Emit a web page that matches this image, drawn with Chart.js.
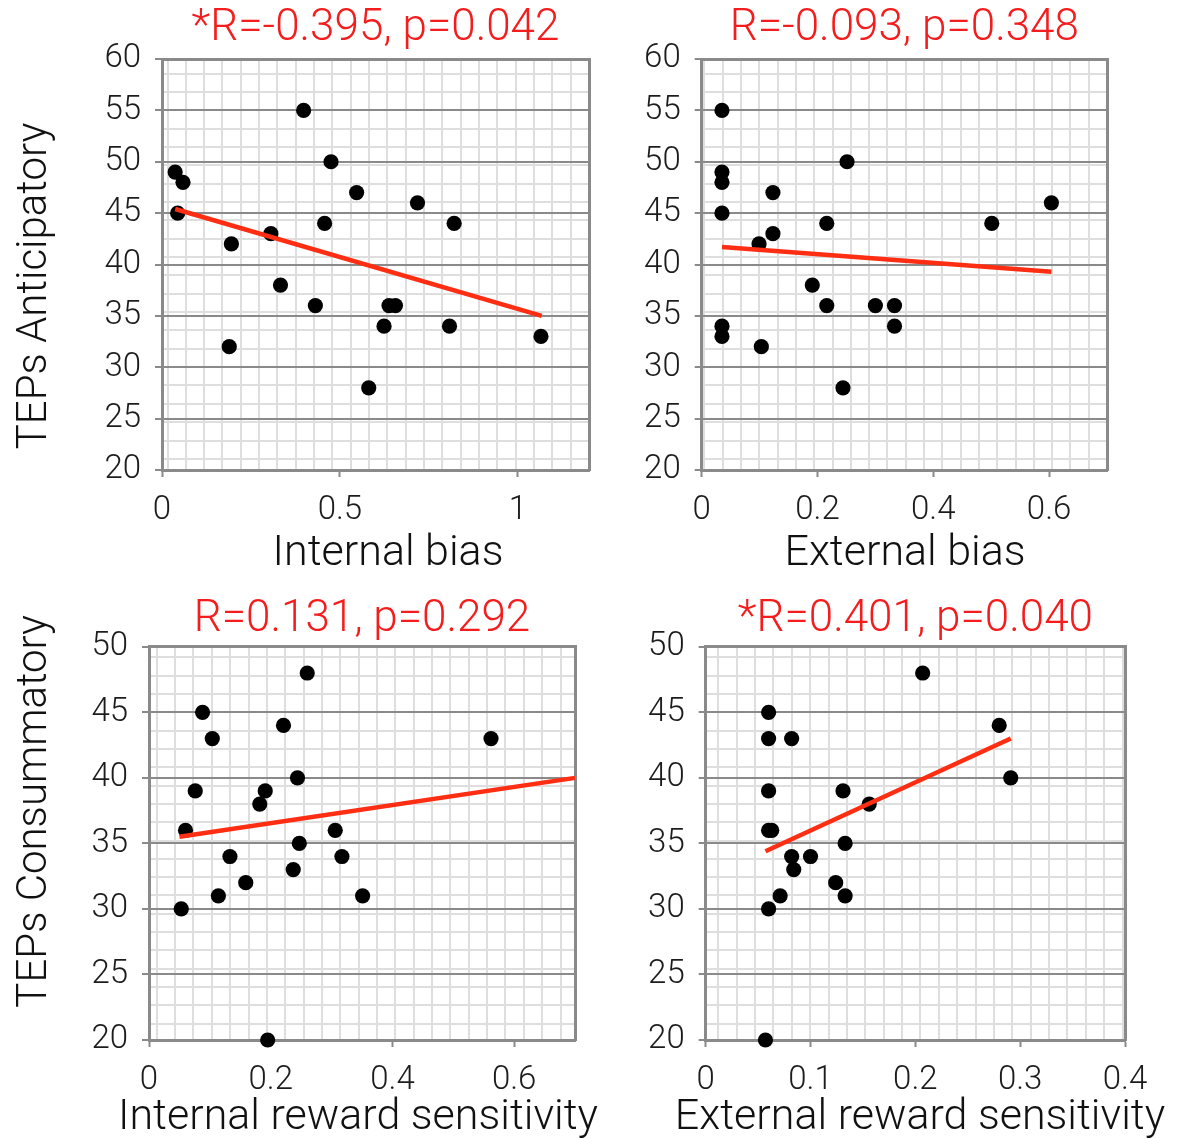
<!DOCTYPE html>
<html>
<head>
<meta charset="utf-8">
<script src="https://cdn.jsdelivr.net/npm/chart.js@4.4.1/dist/chart.umd.min.js"></script>
<style>
  body { margin: 0; background: #fff; width: 1178px; height: 1139px; position: relative; overflow: hidden; }
  canvas { position: absolute; }
</style>
</head>
<body>
<canvas id="c1" width="776" height="580" style="left:0;top:0"></canvas>
<canvas id="c2" width="610" height="580" style="left:600px;top:0"></canvas>
<canvas id="c3" width="716" height="559" style="left:0;top:580px"></canvas>
<canvas id="c4" width="640" height="559" style="left:600px;top:580px"></canvas>
<script>
const FONT = "'Helvetica Neue', Roboto, 'Liberation Sans', sans-serif";

// top left: internal bias vs TEPs anticipatory
const internalBias = [0.037, 0.059, 0.044, 0.398, 0.475, 0.547, 0.718, 0.821, 0.457, 0.306, 0.195, 0.333, 0.431, 0.638, 0.656, 0.624, 0.808, 0.189, 1.065, 0.581];
const anticipatoryInt = [49, 48, 45, 55, 50, 47, 46, 44, 44, 43, 42, 38, 36, 36, 36, 34, 34, 32, 33, 28];
const fitIntBiasX = [0.037, 1.067];
const fitIntBiasY = [45.4, 35.0];

// top right: external bias vs TEPs anticipatory
const externalBias = [0.035, 0.035, 0.035, 0.035, 0.035, 0.035, 0.123, 0.123, 0.099, 0.103, 0.251, 0.216, 0.191, 0.216, 0.244, 0.300, 0.333, 0.333, 0.501, 0.604];
const anticipatoryExt = [55, 49, 48, 45, 34, 33, 47, 43, 42, 32, 50, 44, 38, 36, 28, 36, 36, 34, 44, 46];
const fitExtBiasX = [0.035, 0.604];
const fitExtBiasY = [41.7, 39.3];

// bottom left: internal reward sensitivity vs TEPs consummatory
const internalReward = [0.260, 0.088, 0.221, 0.104, 0.562, 0.244, 0.076, 0.191, 0.182, 0.060, 0.306, 0.247, 0.133, 0.317, 0.237, 0.159, 0.114, 0.351, 0.053, 0.195];
const consummatoryInt = [48, 45, 44, 43, 43, 40, 39, 39, 38, 36, 36, 35, 34, 34, 33, 32, 31, 31, 30, 20];
const fitIntRewardX = [0.05, 0.70];
const fitIntRewardY = [35.5, 40.0];

// bottom right: external reward sensitivity vs TEPs consummatory
const externalReward = [0.207, 0.060, 0.060, 0.082, 0.280, 0.291, 0.060, 0.131, 0.156, 0.060, 0.063, 0.133, 0.082, 0.100, 0.084, 0.124, 0.071, 0.133, 0.060, 0.057];
const consummatoryExt = [48, 45, 43, 43, 44, 40, 39, 39, 38, 36, 36, 35, 34, 34, 33, 32, 31, 31, 30, 20];
const fitExtRewardX = [0.057, 0.291];
const fitExtRewardY = [34.4, 43.0];

// tick labels
const anticipatoryTicks = [20, 25, 30, 35, 40, 45, 50, 55, 60];
const consummatoryTicks = [20, 25, 30, 35, 40, 45, 50];
const internalBiasTicks = [0, 0.5, 1];
const externalBiasTicks = [0, 0.2, 0.4, 0.6];
const internalRewardTicks = [0, 0.2, 0.4, 0.6];
const externalRewardTicks = [0, 0.1, 0.2, 0.3, 0.4];

const panelTitles = ['*R=-0.395, p=0.042', 'R=-0.093, p=0.348', 'R=0.131, p=0.292', '*R=0.401, p=0.040'];
const xTitles = ['Internal bias', 'External bias', 'Internal reward sensitivity', 'External reward sensitivity'];
const yTitles = ['TEPs Anticipatory', '', 'TEPs Consummatory', ''];

const AXIS_GRAY = '#8a8a8a';
const MINOR_GRAY = '#dedede';

// light background grid, evenly spaced, anchored on one line
function minorTicks(min, max, step, anchor) {
  const out = [];
  let v = anchor - Math.floor((anchor - min) / step) * step;
  for (; v <= max + 1e-9; v += step) out.push({ value: v });
  return out;
}

function makePanel(id, p) {
  const points = p.xs.map((x, i) => ({ x, y: p.ys[i] }));
  const fit = p.fitX.map((x, i) => ({ x, y: p.fitY[i] }));
  return new Chart(document.getElementById(id), {
    type: 'scatter',
    data: {
      datasets: [
        { data: fit, showLine: true, borderColor: '#ff2d12', borderWidth: 4.5, pointRadius: 0, clip: false },
        { data: points, backgroundColor: '#000', borderColor: '#000', borderWidth: 0, pointRadius: 7.6, clip: false }
      ]
    },
    options: {
      responsive: false,
      animation: false,
      devicePixelRatio: 1,
      layout: { padding: 0 },
      plugins: {
        legend: { display: false },
        tooltip: { enabled: false },
        title: {
          display: true, text: p.title, color: '#f41c1c', fullSize: false,
          font: { family: FONT, size: 44, weight: 300, lineHeight: 1.2 },
          padding: { top: p.titleTop, bottom: p.titleBottom }
        },
        // x axis title, full canvas width so it is not squeezed to the plot width
        subtitle: {
          display: true, position: 'bottom', text: p.xTitle, color: '#111', fullSize: true,
          font: { family: FONT, size: 43, weight: 300, lineHeight: p.xTitleLH },
          padding: { top: 0, bottom: 0 }
        }
      },
      scales: {
        xm: {
          type: 'linear', position: 'top', min: p.xMin, max: p.xMax, z: -1,
          afterBuildTicks: s => { s.ticks = minorTicks(p.xMin, p.xMax, p.minorX[0], p.minorX[1]); },
          afterFit: s => { s.height = 0; },
          ticks: { display: false },
          grid: { color: MINOR_GRAY, lineWidth: 2, drawTicks: false },
          border: { color: AXIS_GRAY, width: 3 }
        },
        ym: {
          type: 'linear', position: 'right', min: p.yMin, max: p.yMax, z: -1,
          afterBuildTicks: s => { s.ticks = minorTicks(p.yMin, p.yMax, p.minorY[0], p.minorY[1]); },
          afterFit: s => { s.width = p.rightW; },
          ticks: { display: false },
          grid: { color: MINOR_GRAY, lineWidth: 2, drawTicks: false },
          border: { color: AXIS_GRAY, width: 3 }
        },
        x: {
          type: 'linear', position: 'bottom', min: p.xMin, max: p.xMax,
          afterBuildTicks: s => { s.ticks = p.xTicks.map(v => ({ value: v })); },
          afterFit: s => { s.height = p.xAxisH; },
          ticks: { color: '#1c1c1c', padding: 14, font: { family: FONT, size: 33, weight: 300 }, callback: v => String(v) },
          grid: { drawOnChartArea: false, drawTicks: true, tickLength: 7, tickColor: AXIS_GRAY, tickWidth: 2 },
          border: { color: AXIS_GRAY, width: 3 }
        },
        y: {
          type: 'linear', position: 'left', min: p.yMin, max: p.yMax,
          afterBuildTicks: s => { s.ticks = p.yTicks.map(v => ({ value: v })); },
          afterFit: s => { s.width = p.yAxisW; },
          ticks: { color: '#1c1c1c', padding: 14, font: { family: FONT, size: 33, weight: 300 } },
          grid: { color: AXIS_GRAY, lineWidth: 2, tickLength: 7 },
          border: { color: AXIS_GRAY, width: 3 },
          title: { display: p.yTitle !== '', text: p.yTitle, color: '#111', padding: { top: 10, bottom: 0 },
                   font: { family: FONT, size: 42, weight: 300, lineHeight: 1.2 } }
        }
      }
    }
  });
}

makePanel('c1', {
  xs: internalBias, ys: anticipatoryInt, fitX: fitIntBiasX, fitY: fitIntBiasY,
  xMin: 0, xMax: 1.2, yMin: 20, yMax: 60, xTicks: internalBiasTicks, yTicks: anticipatoryTicks,
  title: panelTitles[0], xTitle: xTitles[0], yTitle: yTitles[0] + '\u2002\u2002',
  rightW: 187, yAxisW: 162, xAxisH: 58.4, titleTop: 2.6, titleBottom: 3.6,
  xTitleLH: 1.2, minorX: [0.0515, 1.2], minorY: [1.785, 55]
});
makePanel('c2', {
  xs: externalBias, ys: anticipatoryExt, fitX: fitExtBiasX, fitY: fitExtBiasY,
  xMin: 0, xMax: 0.7, yMin: 20, yMax: 60, xTicks: externalBiasTicks, yTicks: anticipatoryTicks,
  title: panelTitles[1], xTitle: xTitles[1], yTitle: yTitles[1],
  rightW: 103, yAxisW: 101.7, xAxisH: 58.4, titleTop: 2.6, titleBottom: 3.6,
  xTitleLH: 1.2, minorX: [0.0316, 0.7], minorY: [1.785, 55]
});
makePanel('c3', {
  xs: internalReward, ys: consummatoryInt, fitX: fitIntRewardX, fitY: fitIntRewardY,
  xMin: 0, xMax: 0.7, yMin: 20, yMax: 50, xTicks: internalRewardTicks, yTicks: consummatoryTicks,
  title: panelTitles[2], xTitle: xTitles[2], yTitle: '\u2002\u2002\u2002' + yTitles[2],
  rightW: 141, yAxisW: 149, xAxisH: 58.15, titleTop: 14, titleBottom: 0,
  xTitleLH: 0.95, minorX: [0.03016, 0.0127], minorY: [1.397, 45]
});
makePanel('c4', {
  xs: externalReward, ys: consummatoryExt, fitX: fitExtRewardX, fitY: fitExtRewardY,
  xMin: 0, xMax: 0.4, yMin: 20, yMax: 50, xTicks: externalRewardTicks, yTicks: consummatoryTicks,
  title: panelTitles[3], xTitle: xTitles[3], yTitle: yTitles[3],
  rightW: 115, yAxisW: 105.7, xAxisH: 58.15, titleTop: 14, titleBottom: 0,
  xTitleLH: 0.95, minorX: [0.01753, 0.012], minorY: [1.397, 45]
});
</script>
</body>
</html>
